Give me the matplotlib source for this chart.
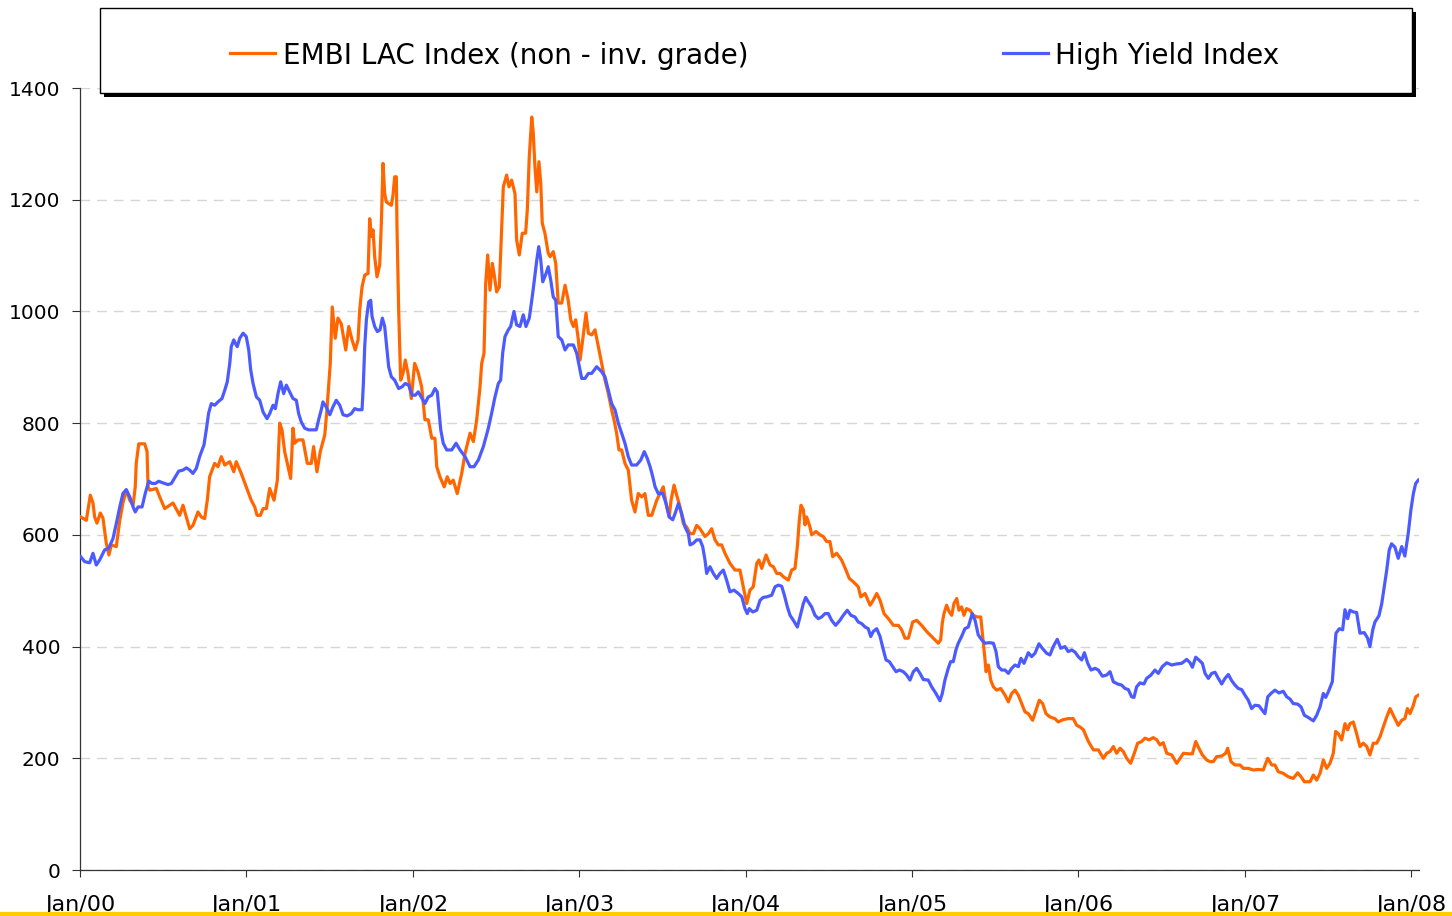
import matplotlib
matplotlib.use("Agg")
import matplotlib.pyplot as plt
from matplotlib.patches import Rectangle
from matplotlib.lines import Line2D

# ---------------- data (decimal years, spread in bp) ----------------
embi_t = [2000.004, 2000.038, 2000.062, 2000.078, 2000.088, 2000.102, 2000.122, 2000.138, 2000.158, 2000.174,
          2000.188, 2000.218, 2000.239, 2000.258, 2000.278, 2000.299, 2000.319, 2000.332, 2000.338, 2000.353,
          2000.389, 2000.403, 2000.409, 2000.419, 2000.459, 2000.479, 2000.509, 2000.559, 2000.599, 2000.619,
          2000.659, 2000.679, 2000.709, 2000.729, 2000.749, 2000.765, 2000.779, 2000.809, 2000.829, 2000.849,
          2000.870, 2000.900, 2000.924, 2000.939, 2000.969, 2000.999, 2001.029, 2001.050, 2001.064, 2001.084,
          2001.100, 2001.120, 2001.140, 2001.166, 2001.186, 2001.200, 2001.214, 2001.230, 2001.250, 2001.266,
          2001.280, 2001.290, 2001.310, 2001.340, 2001.366, 2001.390, 2001.404, 2001.424, 2001.444, 2001.471,
          2001.484, 2001.495, 2001.504, 2001.516, 2001.534, 2001.550, 2001.570, 2001.597, 2001.615, 2001.635,
          2001.654, 2001.671, 2001.681, 2001.695, 2001.711, 2001.731, 2001.741, 2001.751, 2001.761, 2001.771,
          2001.785, 2001.801, 2001.811, 2001.821, 2001.831, 2001.841, 2001.871, 2001.881, 2001.891, 2001.901,
          2001.905, 2001.915, 2001.927, 2001.941, 2001.955, 2001.971, 2001.991, 2002.011, 2002.031, 2002.053,
          2002.073, 2002.093, 2002.114, 2002.133, 2002.144, 2002.163, 2002.189, 2002.207, 2002.224, 2002.243,
          2002.267, 2002.294, 2002.314, 2002.344, 2002.364, 2002.384, 2002.404, 2002.414, 2002.428, 2002.438,
          2002.450, 2002.464, 2002.478, 2002.488, 2002.504, 2002.520, 2002.534, 2002.544, 2002.564, 2002.578,
          2002.594, 2002.614, 2002.624, 2002.640, 2002.658, 2002.678, 2002.688, 2002.700, 2002.715, 2002.724,
          2002.734, 2002.745, 2002.758, 2002.769, 2002.778, 2002.794, 2002.814, 2002.825, 2002.844, 2002.859,
          2002.874, 2002.895, 2002.915, 2002.934, 2002.949, 2002.965, 2002.979, 2002.995, 2003.005, 2003.021,
          2003.041, 2003.055, 2003.075, 2003.095, 2003.115, 2003.135, 2003.155, 2003.175, 2003.195, 2003.209,
          2003.225, 2003.239, 2003.255, 2003.275, 2003.295, 2003.315, 2003.335, 2003.355, 2003.376, 2003.395,
          2003.415, 2003.436, 2003.466, 2003.490, 2003.505, 2003.522, 2003.541, 2003.552, 2003.570, 2003.586,
          2003.606, 2003.626, 2003.646, 2003.666, 2003.686, 2003.706, 2003.726, 2003.756, 2003.776, 2003.796,
          2003.816, 2003.836, 2003.856, 2003.876, 2003.906, 2003.936, 2003.966, 2003.986, 2004.007, 2004.026,
          2004.046, 2004.067, 2004.080, 2004.097, 2004.123, 2004.147, 2004.167, 2004.187, 2004.207, 2004.227,
          2004.257, 2004.277, 2004.297, 2004.311, 2004.323, 2004.333, 2004.347, 2004.357, 2004.367, 2004.387,
          2004.397, 2004.423, 2004.447, 2004.467, 2004.487, 2004.507, 2004.523, 2004.547, 2004.577, 2004.603,
          2004.623, 2004.647, 2004.677, 2004.692, 2004.718, 2004.748, 2004.767, 2004.788, 2004.808, 2004.832,
          2004.858, 2004.888, 2004.918, 2004.938, 2004.958, 2004.978, 2004.992, 2005.004, 2005.028, 2005.058,
          2005.088, 2005.118, 2005.138, 2005.158, 2005.172, 2005.182, 2005.192, 2005.208, 2005.224, 2005.239,
          2005.252, 2005.269, 2005.282, 2005.298, 2005.312, 2005.328, 2005.349, 2005.368, 2005.392, 2005.413,
          2005.425, 2005.439, 2005.445, 2005.459, 2005.473, 2005.489, 2005.509, 2005.533, 2005.559, 2005.579,
          2005.599, 2005.619, 2005.639, 2005.659, 2005.679, 2005.699, 2005.725, 2005.745, 2005.765, 2005.785,
          2005.805, 2005.829, 2005.859, 2005.879, 2005.906, 2005.939, 2005.969, 2005.990, 2006.010, 2006.030,
          2006.060, 2006.090, 2006.120, 2006.150, 2006.170, 2006.190, 2006.210, 2006.230, 2006.250, 2006.270,
          2006.290, 2006.314, 2006.336, 2006.356, 2006.380, 2006.400, 2006.424, 2006.450, 2006.471, 2006.490,
          2006.510, 2006.531, 2006.561, 2006.591, 2006.611, 2006.631, 2006.661, 2006.685, 2006.705, 2006.724,
          2006.745, 2006.771, 2006.790, 2006.811, 2006.831, 2006.861, 2006.885, 2006.897, 2006.917, 2006.941,
          2006.971, 2006.991, 2007.021, 2007.051, 2007.081, 2007.111, 2007.126, 2007.138, 2007.162, 2007.181,
          2007.201, 2007.231, 2007.261, 2007.291, 2007.318, 2007.338, 2007.358, 2007.392, 2007.412, 2007.432,
          2007.452, 2007.472, 2007.492, 2007.512, 2007.532, 2007.546, 2007.562, 2007.582, 2007.602, 2007.618,
          2007.632, 2007.652, 2007.672, 2007.692, 2007.712, 2007.733, 2007.752, 2007.772, 2007.793, 2007.813,
          2007.832, 2007.853, 2007.873, 2007.892, 2007.922, 2007.943, 2007.962, 2007.977, 2007.993, 2008.013,
          2008.027, 2008.043]
embi_v = [632, 626, 671, 657, 632, 621, 639, 630, 585, 564,
          582, 579, 626, 657, 680, 662, 653, 686, 728, 763,
          763, 749, 686, 680, 683, 668, 647, 657, 635, 653,
          611, 617, 641, 632, 629, 662, 704, 728, 722, 740,
          725, 731, 713, 731, 710, 686, 662, 650, 635, 635,
          647, 647, 683, 662, 698, 800, 788, 749, 722, 701,
          791, 764, 770, 770, 728, 728, 758, 713, 749, 779,
          824, 871, 907, 1008, 952, 988, 978, 931, 973, 949,
          931, 949, 1003, 1044, 1065, 1068, 1166, 1134, 1146, 1098,
          1062, 1083, 1158, 1265, 1211, 1196, 1190, 1208, 1241, 1241,
          1151, 1003, 877, 889, 913, 889, 844, 907, 892, 865,
          806, 806, 773, 773, 722, 704, 686, 704, 692, 698,
          674, 710, 746, 782, 767, 806, 865, 907, 925, 1050,
          1101, 1038, 1086, 1068, 1035, 1044, 1151, 1223, 1244, 1223,
          1235, 1211, 1128, 1101, 1140, 1140, 1181, 1277, 1348, 1319,
          1259, 1214, 1268, 1229, 1158, 1140, 1104, 1098, 1107, 1086,
          1015, 1015, 1047, 1020, 985, 973, 985, 949, 913, 949,
          997, 961, 958, 967, 937, 907, 877, 853, 824, 806,
          782, 752, 752, 728, 716, 662, 641, 674, 668, 674,
          635, 635, 662, 677, 686, 656, 632, 662, 689, 671,
          650, 620, 614, 602, 602, 617, 611, 597, 602, 611,
          591, 582, 582, 567, 549, 537, 537, 507, 477, 501,
          507, 549, 555, 540, 564, 546, 543, 531, 531, 525,
          519, 537, 540, 579, 627, 653, 645, 618, 632, 614,
          600, 606, 600, 597, 588, 588, 561, 567, 555, 537,
          522, 516, 507, 489, 495, 474, 483, 495, 483, 459,
          450, 438, 438, 430, 415, 415, 430, 444, 447, 438,
          427, 418, 412, 406, 412, 442, 459, 474, 462, 456,
          477, 486, 465, 471, 456, 468, 465, 456, 453, 453,
          418, 376, 355, 367, 340, 328, 322, 325, 313, 301,
          316, 322, 313, 298, 283, 280, 268, 286, 304, 298,
          280, 274, 271, 265, 269, 271, 271, 259, 256, 251,
          230, 215, 215, 200, 209, 212, 221, 209, 218, 212,
          200, 191, 209, 227, 230, 236, 233, 237, 233, 224,
          228, 209, 206, 191, 200, 209, 208, 208, 230, 218,
          206, 197, 194, 194, 203, 204, 209, 218, 194, 188,
          188, 182, 182, 179, 180, 179, 191, 200, 188, 188,
          176, 173, 167, 164, 174, 167, 158, 158, 170, 161,
          173, 197, 182, 191, 209, 248, 244, 233, 262, 251,
          262, 265, 244, 221, 227, 221, 206, 227, 227, 239,
          256, 274, 289, 277, 259, 268, 271, 289, 280, 295,
          310, 313]

hy_t = [2000.004, 2000.028, 2000.058, 2000.078, 2000.098, 2000.118, 2000.148, 2000.172, 2000.198, 2000.218,
        2000.239, 2000.258, 2000.278, 2000.299, 2000.319, 2000.332, 2000.349, 2000.373, 2000.392, 2000.413,
        2000.433, 2000.453, 2000.473, 2000.499, 2000.529, 2000.549, 2000.573, 2000.593, 2000.619, 2000.639,
        2000.659, 2000.679, 2000.699, 2000.719, 2000.745, 2000.759, 2000.773, 2000.789, 2000.809, 2000.829,
        2000.853, 2000.870, 2000.885, 2000.900, 2000.909, 2000.924, 2000.933, 2000.945, 2000.960, 2000.980,
        2000.999, 2001.014, 2001.026, 2001.040, 2001.060, 2001.080, 2001.100, 2001.124, 2001.140, 2001.160,
        2001.174, 2001.190, 2001.206, 2001.224, 2001.240, 2001.260, 2001.280, 2001.300, 2001.314, 2001.330,
        2001.350, 2001.374, 2001.400, 2001.420, 2001.434, 2001.450, 2001.460, 2001.480, 2001.501, 2001.520,
        2001.540, 2001.561, 2001.581, 2001.606, 2001.630, 2001.651, 2001.671, 2001.695, 2001.703, 2001.711,
        2001.721, 2001.735, 2001.747, 2001.755, 2001.771, 2001.787, 2001.803, 2001.817, 2001.831, 2001.841,
        2001.855, 2001.871, 2001.891, 2001.915, 2001.935, 2001.955, 2001.975, 2001.997, 2002.015, 2002.033,
        2002.073, 2002.093, 2002.114, 2002.133, 2002.147, 2002.159, 2002.168, 2002.183, 2002.204, 2002.234,
        2002.260, 2002.284, 2002.314, 2002.344, 2002.368, 2002.394, 2002.424, 2002.454, 2002.474, 2002.494,
        2002.514, 2002.528, 2002.540, 2002.554, 2002.574, 2002.588, 2002.608, 2002.624, 2002.644, 2002.664,
        2002.680, 2002.700, 2002.715, 2002.728, 2002.745, 2002.757, 2002.769, 2002.781, 2002.801, 2002.814,
        2002.829, 2002.844, 2002.859, 2002.874, 2002.895, 2002.915, 2002.934, 2002.965, 2002.985, 2003.001,
        2003.015, 2003.035, 2003.055, 2003.075, 2003.105, 2003.135, 2003.155, 2003.175, 2003.195, 2003.215,
        2003.235, 2003.255, 2003.275, 2003.295, 2003.315, 2003.345, 2003.370, 2003.391, 2003.409, 2003.426,
        2003.442, 2003.456, 2003.475, 2003.502, 2003.522, 2003.541, 2003.562, 2003.576, 2003.596, 2003.616,
        2003.636, 2003.656, 2003.666, 2003.686, 2003.706, 2003.726, 2003.742, 2003.756, 2003.766, 2003.786,
        2003.806, 2003.826, 2003.846, 2003.866, 2003.886, 2003.906, 2003.930, 2003.956, 2003.977, 2003.996,
        2004.010, 2004.022, 2004.043, 2004.067, 2004.087, 2004.106, 2004.127, 2004.157, 2004.177, 2004.197,
        2004.217, 2004.233, 2004.251, 2004.267, 2004.287, 2004.311, 2004.327, 2004.347, 2004.361, 2004.377,
        2004.397, 2004.417, 2004.437, 2004.457, 2004.477, 2004.497, 2004.517, 2004.541, 2004.567, 2004.587,
        2004.611, 2004.633, 2004.657, 2004.677, 2004.698, 2004.718, 2004.737, 2004.752, 2004.767, 2004.788,
        2004.808, 2004.828, 2004.844, 2004.864, 2004.884, 2004.904, 2004.924, 2004.948, 2004.968, 2004.988,
        2005.008, 2005.028, 2005.048, 2005.068, 2005.098, 2005.118, 2005.144, 2005.168, 2005.182, 2005.198,
        2005.218, 2005.232, 2005.248, 2005.264, 2005.278, 2005.298, 2005.318, 2005.338, 2005.362, 2005.379,
        2005.398, 2005.419, 2005.439, 2005.465, 2005.489, 2005.505, 2005.519, 2005.539, 2005.559, 2005.579,
        2005.599, 2005.619, 2005.639, 2005.655, 2005.673, 2005.699, 2005.719, 2005.739, 2005.763, 2005.783,
        2005.809, 2005.829, 2005.849, 2005.873, 2005.894, 2005.919, 2005.939, 2005.960, 2005.980, 2005.999,
        2006.020, 2006.036, 2006.056, 2006.076, 2006.100, 2006.120, 2006.144, 2006.170, 2006.190, 2006.210,
        2006.236, 2006.260, 2006.280, 2006.300, 2006.320, 2006.334, 2006.350, 2006.370, 2006.394, 2006.410,
        2006.436, 2006.460, 2006.480, 2006.504, 2006.531, 2006.561, 2006.591, 2006.621, 2006.651, 2006.671,
        2006.685, 2006.705, 2006.724, 2006.745, 2006.761, 2006.781, 2006.801, 2006.821, 2006.841, 2006.861,
        2006.881, 2006.901, 2006.921, 2006.941, 2006.961, 2006.981, 2007.001, 2007.021, 2007.041, 2007.061,
        2007.085, 2007.105, 2007.121, 2007.138, 2007.157, 2007.181, 2007.205, 2007.231, 2007.252, 2007.272,
        2007.291, 2007.318, 2007.338, 2007.358, 2007.382, 2007.412, 2007.432, 2007.452, 2007.472, 2007.486,
        2007.502, 2007.526, 2007.538, 2007.548, 2007.568, 2007.588, 2007.602, 2007.618, 2007.632, 2007.652,
        2007.672, 2007.692, 2007.718, 2007.738, 2007.752, 2007.769, 2007.782, 2007.806, 2007.823, 2007.838,
        2007.853, 2007.868, 2007.882, 2007.902, 2007.922, 2007.943, 2007.962, 2007.982, 2007.998, 2008.013,
        2008.027, 2008.043]
hy_v = [561, 552, 550, 567, 546, 555, 573, 576, 593, 620,
        650, 674, 681, 668, 650, 641, 650, 650, 674, 696,
        692, 692, 696, 693, 690, 692, 704, 714, 716, 720,
        716, 710, 719, 740, 761, 788, 818, 835, 832, 838,
        844, 859, 874, 907, 937, 949, 943, 937, 952, 961,
        955, 931, 895, 871, 847, 841, 820, 808, 817, 832,
        826, 853, 874, 853, 868, 856, 844, 841, 817, 802,
        791, 788, 788, 788, 806, 824, 838, 829, 815, 829,
        841, 832, 815, 813, 817, 826, 824, 824, 871, 937,
        985, 1017, 1020, 991, 973, 964, 967, 988, 973, 943,
        901, 883, 877, 862, 865, 871, 868, 850, 850, 856,
        835, 847, 850, 862, 856, 817, 788, 764, 752, 752,
        764, 752, 740, 722, 722, 734, 758, 791, 818, 847,
        871, 877, 925, 955, 967, 973, 1000, 976, 973, 994,
        973, 988, 1020, 1050, 1092, 1116, 1092, 1053, 1068, 1080,
        1056, 1026, 1020, 955, 949, 931, 940, 940, 925, 901,
        880, 880, 889, 889, 901, 892, 883, 859, 835, 824,
        800, 782, 764, 740, 725, 725, 734, 749, 737, 722,
        704, 686, 674, 674, 656, 632, 627, 638, 656, 638,
        614, 602, 582, 585, 591, 591, 579, 555, 531, 543,
        531, 522, 531, 537, 519, 498, 501, 495, 489, 468,
        459, 468, 462, 465, 483, 488, 489, 492, 507, 510,
        508, 492, 471, 456, 447, 435, 453, 477, 488, 480,
        471, 456, 450, 453, 459, 459, 447, 438, 447, 456,
        465, 456, 453, 444, 441, 435, 432, 418, 427, 432,
        418, 394, 376, 373, 364, 355, 358, 355, 349, 340,
        355, 361, 352, 341, 340, 328, 316, 303, 316, 340,
        361, 373, 373, 394, 406, 418, 432, 435, 459, 447,
        421, 412, 406, 407, 406, 391, 364, 358, 358, 352,
        361, 367, 364, 379, 370, 389, 382, 388, 405, 397,
        388, 385, 400, 413, 397, 400, 391, 394, 390, 382,
        376, 389, 370, 358, 361, 358, 347, 349, 355, 337,
        333, 331, 325, 323, 310, 309, 328, 335, 333, 343,
        349, 358, 352, 364, 371, 367, 369, 370, 377, 371,
        363, 381, 376, 370, 352, 343, 352, 354, 343, 333,
        343, 350, 339, 331, 325, 323, 313, 304, 289, 295,
        294, 286, 280, 310, 316, 322, 317, 320, 310, 306,
        298, 297, 292, 277, 273, 267, 277, 292, 316, 309,
        319, 337, 388, 424, 432, 430, 466, 450, 465, 462,
        461, 424, 425, 415, 400, 430, 444, 455, 477, 507,
        537, 573, 584, 578, 558, 579, 562, 602, 644, 674,
        692, 698]

series_names = ["EMBI LAC Index (non - inv. grade)", "High Yield Index"]
series_colors = ["#FF6600", "#4B5BFF"]
tick_years = [2000, 2001, 2002, 2003, 2004, 2005, 2006, 2007, 2008]
tick_labels = ["Jan/00", "Jan/01", "Jan/02", "Jan/03", "Jan/04", "Jan/05", "Jan/06", "Jan/07", "Jan/08"]
y_ticks = [0, 200, 400, 600, 800, 1000, 1200, 1400]

# ---------------- figure ----------------
W, H = 1452, 916
fig = plt.figure(figsize=(W / 100, H / 100), dpi=100)
plt.rcParams['font.family'] = ['DejaVu Sans']

ax = fig.add_axes([80 / W, 46 / H, 1339 / W, 782 / H])
l1, = ax.plot(embi_t, embi_v, color=series_colors[0], lw=2.3, solid_joinstyle='round', zorder=3)
l2, = ax.plot(hy_t, hy_v, color=series_colors[1], lw=2.3, solid_joinstyle='round', zorder=3)

ax.set_xlim(2000, 2000 + 1339 / 166.4)
ax.set_ylim(0, 1400)
ax.set_yticks(y_ticks)
ax.set_xticks(tick_years)
ax.set_xticklabels(tick_labels)
ax.tick_params(axis='y', labelsize=14.5, length=6, width=0.8, pad=8, color='#333333')
ax.tick_params(axis='x', labelsize=16, length=5, width=0.8, pad=13, color='#333333')
for s in ['top', 'right']:
    ax.spines[s].set_visible(False)
for s in ['left', 'bottom']:
    ax.spines[s].set_color('#333333')
    ax.spines[s].set_linewidth(0.9)
ax.set_axisbelow(True)
ax.yaxis.grid(True, color='#D6D6D6', linestyle=(0, (7, 5)), linewidth=1.0)
ax.xaxis.grid(False)

# ---------------- custom legend box ----------------
def fx(px):
    return px / W

def fy(py):
    return (H - py) / H

fig.add_artist(Rectangle((fx(104), fy(97)), (1412 - 100) / W, (93 - 8) / H,
                         transform=fig.transFigure, facecolor='black', edgecolor='none', zorder=5))
fig.add_artist(Rectangle((fx(100), fy(93)), (1412 - 100) / W, (93 - 8) / H,
                         transform=fig.transFigure, facecolor='white', edgecolor='black',
                         linewidth=1.0, zorder=6))
for (x0, x1, tx), line, name in zip([(230, 275, 283), (1003, 1048, 1055)], [l1, l2], series_names):
    fig.add_artist(Line2D([fx(x0), fx(x1)], [fy(53), fy(53)], transform=fig.transFigure,
                          color=line.get_color(), lw=2.3, zorder=7))
    fig.text(fx(tx), fy(53), name, fontsize=20, va='center_baseline', ha='left', zorder=7)

# yellow bottom rule
fig.add_artist(Line2D([0, 1], [fy(914), fy(914)], transform=fig.transFigure,
                      color='#FFCC00', lw=3.0, zorder=10))

fig.savefig("out.png", dpi=100)
